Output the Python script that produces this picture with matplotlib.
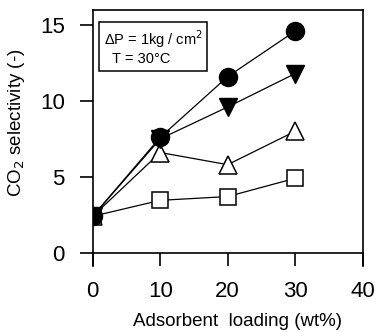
import matplotlib
matplotlib.use('Agg')
import matplotlib.pyplot as plt

plt.rcParams['font.family'] = ['Liberation Sans', 'DejaVu Sans']

loading = [0, 10, 20, 30]
sel_circle = [2.4, 7.6, 11.6, 14.6]
sel_down = [2.4, 7.5, 9.6, 11.8]
sel_up = [2.4, 6.6, 5.8, 8.0]
sel_square = [2.4, 3.45, 3.7, 4.9]

xticks = [0, 10, 20, 30, 40]
yticks = [0, 5, 10, 15]

fig = plt.figure(figsize=(3.77, 3.32), dpi=100)
ax = fig.add_axes([0.2459, 0.1988, 0.7161, 0.7711])

lw = 0.9
ax.plot(loading, sel_square, '-', color='black', lw=lw, marker='s', ms=11.5,
        mfc='white', mec='black', mew=1.1, zorder=3)
ax.plot(loading, sel_up, '-', color='black', lw=lw, marker='^', ms=13,
        mfc='white', mec='black', mew=1.1, zorder=4)
ax.plot(loading, sel_down, '-', color='black', lw=lw, marker='v', ms=13,
        mfc='black', mec='black', zorder=5)
ax.plot(loading, sel_circle, '-', color='black', lw=lw, marker='o', ms=13,
        mfc='black', mec='black', zorder=6)

ax.set_xlim(0, 40)
ax.set_ylim(-0.876, 15.99)
ax.spines['bottom'].set_position(('data', 0))
for s in ax.spines.values():
    s.set_linewidth(1.2)

ax.set_xticks(xticks)
ax.set_yticks(yticks)
ax.tick_params(axis='x', direction='out', length=9.4, width=1.2, labelsize=16, pad=11)
ax.tick_params(axis='y', direction='out', length=9.1, width=1.2, labelsize=16, pad=11)

ax.set_xlabel('Adsorbent  loading (wt%)', fontsize=13.5)
ax.xaxis.set_label_coords(0.536, -0.185)
ax.set_ylabel('CO$_2$ selectivity (-)', fontsize=13.5)
ax.yaxis.set_label_coords(-0.243, 0.559)

ax.text(0.04, 0.93, 'ΔP = 1kg / cm$^2$\n  T = 30°C', transform=ax.transAxes,
        fontsize=10.5, ha='left', va='top', linespacing=1.25,
        bbox=dict(boxstyle='square,pad=0.3', fc='white', ec='black', lw=1.1))

fig.savefig('out.png', dpi=100)
